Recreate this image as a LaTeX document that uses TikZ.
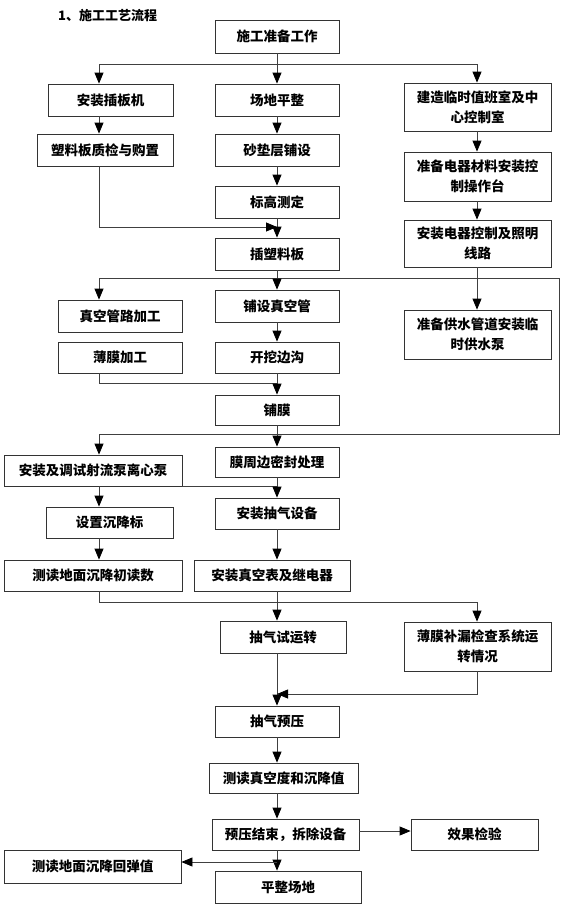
\documentclass[tikz,border=0pt]{standalone}
\usepackage{fontspec}
\setmainfont{Noto Sans CJK SC}
\usetikzlibrary{arrows.meta}
\tikzset{
  box/.style={draw=black!80, line width=0.8pt, inner sep=1pt, align=center,
    font=\fontsize{13.5}{20}\selectfont\bfseries},
  conn/.style={draw=black!75, line width=0.8pt},
  arr/.style={conn, -{Triangle[length=11pt,width=9pt,color=black]}},
}
\newcommand{\bx}[7]{% name, x1, x2, y1, y2, text
  \node[box, minimum width={(#3-#2)*1pt}, minimum height={(#5-#4)*1pt}] (#1) at ({(#2+#3)/2},{(#4+#5)/2}) {#6#7};}
\begin{document}
\begin{tikzpicture}[x=1pt,y=-1pt]
\useasboundingbox (0,0) rectangle (565,910);
\coordinate (L) at (99,0);
\coordinate (C) at (277,0);
\coordinate (R) at (477,0);
\coordinate (E) at (559,0);
\coordinate (h1) at (0,64);
\coordinate (h2) at (0,227);
\coordinate (h3) at (0,278);
\coordinate (h4) at (0,434);
\coordinate (h5) at (0,383);
\coordinate (h7) at (0,602);
\coordinate (h8) at (0,694);
\coordinate (h9) at (0,831);
\coordinate (h10) at (0,862);

\node[anchor=west, inner sep=0pt, font=\fontsize{13}{16}\selectfont\bfseries] (title) at (58,16) {1、施工工艺流程};

\bx{prep}{215}{339}{20}{53}{施工准备工作}{}
\bx{anban}{48}{173}{84}{116}{安装插板机}{}
\bx{pingzheng}{215}{339}{84}{116}{场地平整}{}
\bx{jianzao}{404}{551}{83}{131}{建造临时值班室及中\\}{心控制室}
\bx{suliao}{37}{173}{134}{166}{塑料板质检与购置}{}
\bx{shadian}{215}{339}{134}{166}{砂垫层铺设}{}
\bx{dianqi1}{404}{551}{152}{201}{准备电器材料安装控\\}{制操作台}
\bx{biaogao}{215}{339}{186}{218}{标高测定}{}
\bx{cha}{215}{339}{238}{270}{插塑料板}{}
\bx{dianqi2}{404}{551}{220}{267}{安装电器控制及照明\\}{线路}
\bx{zhenkong}{58}{182}{300}{332}{真空管路加工}{}
\bx{puguan}{215}{339}{290}{322}{铺设真空管}{}
\bx{gongshui}{404}{551}{310}{359}{准备供水管道安装临\\}{时供水泵}
\bx{bomo}{58}{182}{342}{373}{薄膜加工}{}
\bx{kaiwa}{215}{339}{342}{373}{开挖边沟}{}
\bx{pumo}{215}{339}{395}{425}{铺膜}{}
\bx{mozhou}{215}{339}{447}{477}{膜周边密封处理}{}
\bx{anzhuang}{4}{182}{455}{486}{安装及调试射流泵离心泵}{}
\bx{chouqi}{215}{339}{498}{529}{安装抽气设备}{}
\bx{chenjiang}{46}{173}{507}{538}{设置沉降标}{}
\bx{chudu}{4}{182}{560}{591}{测读地面沉降初读数}{}
\bx{biao}{194}{350}{560}{591}{安装真空表及继电器}{}
\bx{shiyun}{220}{346}{621}{653}{抽气试运转}{}
\bx{bulou}{404}{551}{622}{671}{薄膜补漏检查系统运\\}{转情况}
\bx{yuya}{215}{339}{706}{737}{抽气预压}{}
\bx{cedu}{209}{358}{763}{793}{测读真空度和沉降值}{}
\bx{jieshu}{212}{359}{819}{850}{预压结束，拆除设备}{}
\bx{xiaoguo}{411}{538}{819}{850}{效果检验}{}
\bx{huitan}{4}{181}{850}{883}{测读地面沉降回弹值}{}
\bx{zhengdi}{215}{361}{871}{903}{平整场地}{}

% top split
\draw[arr] (prep.south -| C) -- (pingzheng.north -| C);
\draw[conn] (L |- h1) -- (R |- h1);
\draw[arr] (L |- h1) -- (anban.north -| L);
\draw[arr] (R |- h1) -- (jianzao.north -| R);
% columns
\draw[arr] (anban.south -| L) -- (suliao.north -| L);
\draw[arr] (pingzheng.south -| C) -- (shadian.north -| C);
\draw[arr] (shadian.south -| C) -- (biaogao.north -| C);
\draw[arr] (biaogao.south -| C) -- (cha.north -| C);
\draw[arr] (suliao.south -| L) |- (C |- h2);
\draw[arr] (jianzao.south -| R) -- (dianqi1.north -| R);
\draw[arr] (dianqi1.south -| R) -- (dianqi2.north -| R);
% second split loop
\draw[conn] (cha.south -| C) -- (C |- h3);
\draw[conn] (L |- h3) -- (E |- h3) -- (E |- h4) -- (L |- h4);
\draw[arr] (L |- h3) -- (zhenkong.north -| L);
\draw[arr] (C |- h3) -- (puguan.north -| C);
\draw[arr] (dianqi2.south -| R) -- (gongshui.north -| R);
\draw[arr] (puguan.south -| C) -- (kaiwa.north -| C);
\draw[conn] (bomo.south -| L) |- (C |- h5);
\draw[arr] (kaiwa.south -| C) -- (pumo.north -| C);
\draw[arr] (pumo.south -| C) -- (mozhou.north -| C);
\draw[arr] (L |- h4) -- (anzhuang.north -| L);
% lower part
\draw[conn] (anzhuang.south east) -- (C |- anzhuang.south);
\draw[arr] (mozhou.south -| C) -- (chouqi.north -| C);
\draw[arr] (anzhuang.south -| L) -- (chenjiang.north -| L);
\draw[arr] (chenjiang.south -| L) -- (chudu.north -| L);
\draw[arr] (chouqi.south -| C) -- (biao.north -| C);
\draw[conn] (chudu.south -| L) |- (R |- h7);
\draw[arr] (R |- h7) -- (bulou.north -| R);
\draw[arr] (biao.south -| C) -- (shiyun.north -| C);
\draw[arr] (shiyun.south -| C) -- (yuya.north -| C);
\draw[arr] (bulou.south -| R) |- (C |- h8);
\draw[arr] (yuya.south -| C) -- (cedu.north -| C);
\draw[arr] (cedu.south -| C) -- (jieshu.north -| C);
\draw[arr] (jieshu.east |- h9) -- (xiaoguo.west |- h9);
\draw[arr] (jieshu.south -| C) -- (zhengdi.north -| C);
\draw[arr] (C |- h10) -- (huitan.east |- h10);
\end{tikzpicture}
\end{document}
